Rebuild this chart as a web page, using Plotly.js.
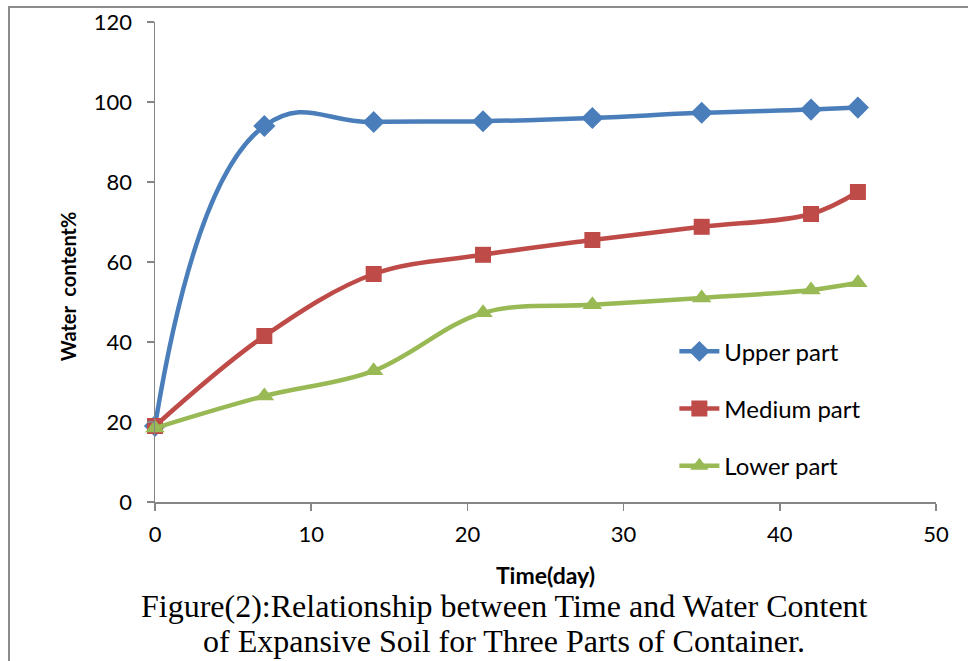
<!DOCTYPE html>
<html>
<head>
<meta charset="utf-8">
<script src="https://cdn.plot.ly/plotly-3.0.1.min.js"></script>
<style>
  html, body { margin: 0; padding: 0; background: #fff; }
  #wrap { position: relative; width: 968px; height: 661px; }
  #frame { position: absolute; left: 8px; top: 6px; width: 960px; height: 655px;
           border-top: 2px solid #8c8c8c; border-left: 2px solid #8c8c8c; box-sizing: border-box; pointer-events: none; z-index: 5; }
  #chart { position: absolute; left: 0; top: 0; width: 968px; height: 661px; }
</style>
</head>
<body>
<div id="wrap">
  <div id="chart"></div>
  <div id="frame"></div>
</div>
<script>
const days = [0, 7, 14, 21, 28, 35, 42, 45];
const upperPart = [19, 94, 95, 95.2, 96, 97.3, 98.1, 98.6];
const mediumPart = [19, 41.5, 57, 61.8, 65.5, 68.8, 72, 77.5];
const lowerPart = [18.5, 26.5, 32.8, 47.3, 49.3, 51, 53, 54.8];
const seriesNames = ['Upper part', 'Medium part', 'Lower part'];
const xTicks = [0, 10, 20, 30, 40, 50];
const yTicks = [0, 20, 40, 60, 80, 100, 120];

const colors = ['#4a7ebb', '#be4b48', '#98b954'];
const symbols = ['diamond', 'square', 'triangle-up'];
const sizes = [17, 16, 17];
const smooth = [1.3, 1, 1];
const datasets = [upperPart, mediumPart, lowerPart];

const traces = datasets.map((ys, i) => ({
  x: days, y: ys, name: seriesNames[i], type: 'scatter', mode: 'lines+markers',
  legendgroup: 'g' + i,
  line: { color: colors[i], width: 4.5, shape: 'spline', smoothing: smooth[i] },
  marker: { color: colors[i], symbol: symbols[i], size: sizes[i], line: { width: 0 } },
  cliponaxis: false
}));

const sans = 'Lato, "Open Sans", sans-serif';
const serif = '"Liberation Serif", "Times New Roman", serif';
const tickFont = { family: sans, size: 22, color: '#000' };

const layout = {
  width: 968, height: 661,
  margin: { l: 155, r: 32, t: 22, b: 159 },
  paper_bgcolor: '#fff', plot_bgcolor: '#fff',
  showlegend: true,
  legend: {
    x: 0.665, y: 0.36, xanchor: 'left', yanchor: 'top',
    traceorder: 'grouped', tracegroupgap: 23,
    font: { family: sans, size: 24, color: '#000' },
    bgcolor: 'rgba(0,0,0,0)', itemwidth: 40
  },
  xaxis: {
    range: [0, 50], tickvals: xTicks, ticktext: xTicks.map(String),
    showgrid: false, zeroline: false, showline: true, linecolor: '#868686', linewidth: 1.5,
    ticks: 'outside', ticklen: 7, tickcolor: '#868686', tickwidth: 1.5,
    ticklabelstandoff: 5,
    tickfont: tickFont,
    title: { text: '<b>Time(day)</b>', font: { family: sans, size: 23, color: '#000' }, standoff: 22 }
  },
  yaxis: {
    range: [0, 120], tickvals: yTicks, ticktext: yTicks.map(String),
    showgrid: false, zeroline: false, showline: true, linecolor: '#868686', linewidth: 1.5,
    ticks: 'outside', ticklen: 7, tickcolor: '#868686', tickwidth: 1.5,
    ticklabelstandoff: 10,
    tickfont: tickFont
  },
  annotations: [
    { text: '<b>Water  content%</b>', xref: 'paper', yref: 'paper', textangle: -90,
      x: -0.111, y: 0.45, xanchor: 'center', yanchor: 'middle', showarrow: false,
      font: { family: sans, size: 20, color: '#000' } },
    { text: 'Figure(2):Relationship between Time and Water Content', xref: 'paper', yref: 'paper',
      x: 0.447, y: -0.216, xanchor: 'center', yanchor: 'middle', showarrow: false,
      font: { family: serif, size: 32, color: '#000' } },
    { text: 'of Expansive Soil for Three Parts of Container.', xref: 'paper', yref: 'paper',
      x: 0.447, y: -0.289, xanchor: 'center', yanchor: 'middle', showarrow: false,
      font: { family: serif, size: 32, color: '#000' } }
  ]
};

Plotly.newPlot('chart', traces, layout, { displayModeBar: false, staticPlot: true });
</script>
</body>
</html>
